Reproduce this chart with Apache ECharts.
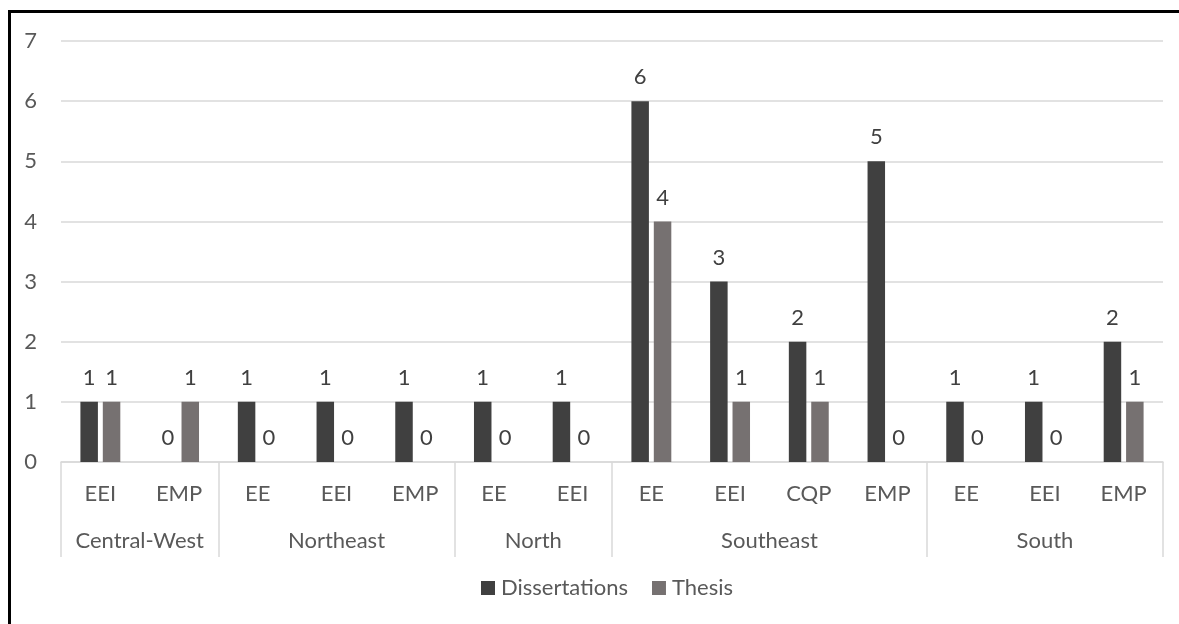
<!DOCTYPE html>
<html>
<head>
<meta charset="utf-8">
<script src="https://cdn.jsdelivr.net/npm/echarts@6/dist/echarts.min.js"></script>
<style>
  html, body { margin: 0; padding: 0; background: #fff; }
  #frame { position: absolute; left: 8px; top: 10px; width: 1300px; height: 700px;
           border-top: 3px solid #000; border-left: 3px solid #000; box-sizing: border-box; }
  #chart { position: absolute; left: 0; top: 0; width: 1179px; height: 624px; }
</style>
</head>
<body>
<div id="frame"></div>
<div id="chart"></div>
<script>
// Regions and the programs counted within each one
const regions = ['Central-West', 'Northeast', 'North', 'Southeast', 'South'];
const programs = [
  ['EEI', 'EMP'],
  ['EE', 'EEI', 'EMP'],
  ['EE', 'EEI'],
  ['EE', 'EEI', 'CQP', 'EMP'],
  ['EE', 'EEI', 'EMP']
];
// Counts per program, in the same order as the flattened program list
const dissertations = [1, 0, 1, 1, 1, 1, 1, 6, 3, 2, 5, 1, 1, 2];
const thesis        = [1, 1, 0, 0, 0, 0, 0, 4, 1, 1, 0, 0, 0, 1];
const yTicks = [0, 1, 2, 3, 4, 5, 6, 7];

const categories = programs.flat();

// Boundary indices between regions, and the midpoint of each region span
const boundaries = [0];
const groupCenters = {};
programs.forEach((list, i) => {
  const start = boundaries[boundaries.length - 1];
  groupCenters[start + list.length / 2] = regions[i];
  boundaries.push(start + list.length);
});

const FONT = 'Lato';
const FS = 22;
const TEXT = '#595959';
const GRID = '#d9d9d9';

const chart = echarts.init(document.getElementById('chart'), null, { renderer: 'canvas' });

const labelStyle = {
  show: true,
  position: 'top',
  distance: 13,
  fontFamily: FONT,
  fontSize: FS,
  color: '#404040'
};

chart.setOption({
  backgroundColor: 'transparent',
  animation: false,
  grid: { left: 61, right: 16, top: 41, bottom: 162, containLabel: false },
  xAxis: [
    {
      type: 'category',
      data: categories,
      boundaryGap: true,
      axisLine: { show: true, lineStyle: { color: GRID, width: 1.5 } },
      axisTick: {
        show: true,
        length: 95,
        interval: (idx) => boundaries.includes(idx),
        lineStyle: { color: GRID, width: 1.5 }
      },
      axisLabel: { interval: 0, margin: 21, fontFamily: FONT, fontSize: FS, color: TEXT }
    },
    {
      type: 'value',
      position: 'bottom',
      offset: 47,
      min: 0,
      max: categories.length,
      interval: 0.5,
      axisLine: { show: false },
      axisTick: { show: false },
      splitLine: { show: false },
      axisLabel: {
        margin: 21,
        showMinLabel: true,
        showMaxLabel: true,
        fontFamily: FONT,
        fontSize: FS,
        color: TEXT,
        formatter: (v) => groupCenters[v] || ''
      }
    }
  ],
  yAxis: {
    type: 'value',
    min: yTicks[0],
    max: yTicks[yTicks.length - 1],
    interval: 1,
    axisLine: { show: false },
    axisTick: { show: false },
    axisLabel: { margin: 24, fontFamily: FONT, fontSize: FS, color: TEXT },
    splitLine: { lineStyle: { color: GRID, width: 1.5 } }
  },
  legend: {
    bottom: 20,
    left: 476,
    itemWidth: 14,
    itemHeight: 14,
    itemGap: 24,
    icon: 'rect',
    textStyle: { fontFamily: FONT, fontSize: FS, color: TEXT, padding: [0, 0, 0, 1] },
    data: ['Dissertations', 'Thesis']
  },
  series: [
    {
      name: 'Dissertations',
      type: 'bar',
      xAxisIndex: 0,
      data: dissertations,
      barWidth: 17.5,
      barGap: '28%',
      itemStyle: { color: '#404040' },
      label: labelStyle
    },
    {
      name: 'Thesis',
      type: 'bar',
      xAxisIndex: 0,
      data: thesis,
      barWidth: 17.5,
      barGap: '28%',
      itemStyle: { color: '#767171' },
      label: labelStyle
    }
  ]
});
</script>
</body>
</html>
